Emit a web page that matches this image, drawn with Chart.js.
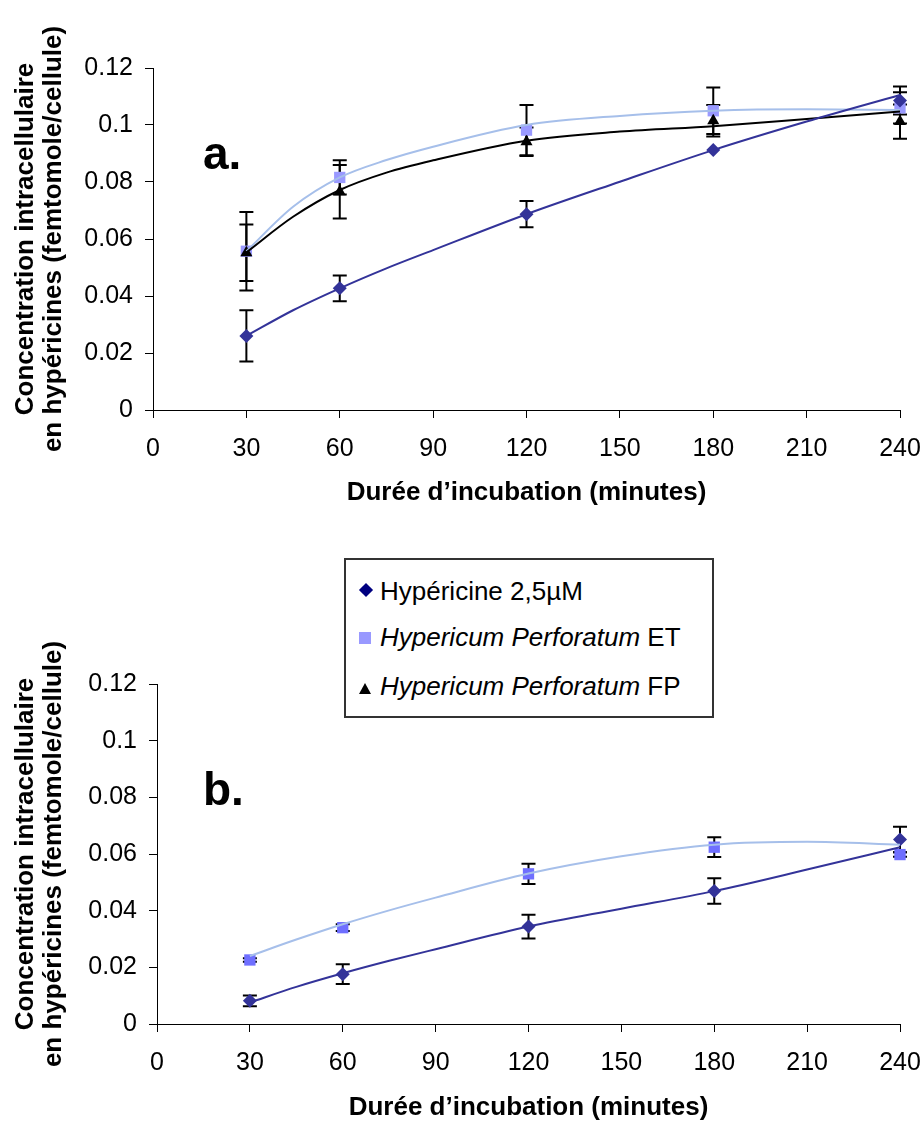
<!DOCTYPE html>
<html>
<head>
<meta charset="utf-8">
<script src="https://cdn.jsdelivr.net/npm/chart.js@4.4.0/dist/chart.umd.min.js"></script>
<style>
  body { margin: 0; background: #fff; }
  #page { position: relative; width: 924px; height: 1124px; font-family: 'Liberation Sans', Arial, sans-serif; color: #000; }
  canvas { position: absolute; left: 0; }
  #chartA { top: 0; }
  #chartB { top: 584px; }
  .panel { position: absolute; left: 203px; font-weight: bold; font-size: 46px; line-height: 46px; z-index: 2; }
  #legend { position: absolute; left: 344px; top: 558px; width: 366px; height: 156px; border: 2px solid #333; background: #fff; font-size: 26px; z-index: 3; }
  .row { position: absolute; left: 34px; line-height: 26px; white-space: nowrap; }
  .mk { position: absolute; }
</style>
</head>
<body>
<div id="page">
  <canvas id="chartA" width="924" height="540"></canvas>
  <canvas id="chartB" width="924" height="540"></canvas>
  <div class="panel" style="top:130px">a.</div>
  <div class="panel" style="top:766px">b.</div>
  <div id="legend">
    <div class="mk" style="left:15px;top:25px;width:10px;height:10px;background:#000080;transform:rotate(45deg)"></div>
    <div class="row" style="top:18px">Hypéricine 2,5µM</div>
    <div class="mk" style="left:13px;top:72px;width:12px;height:12px;background:#9999FF"></div>
    <div class="row" style="top:64px"><i>Hypericum Perforatum</i> ET</div>
    <div class="mk" style="left:13px;top:123px;width:0;height:0;border-left:6px solid transparent;border-right:6px solid transparent;border-bottom:11px solid #000"></div>
    <div class="row" style="top:113px"><i>Hypericum Perforatum</i> FP</div>
  </div>
</div>
<script>
// Axis ticks
const xTickValues = [0, 30, 60, 90, 120, 150, 180, 210, 240];
const yTickValues = [0, 0.02, 0.04, 0.06, 0.08, 0.1, 0.12];

// Measured time points (minutes)
const times = [30, 60, 120, 180, 240];
const trendTimes = [30, 45, 60, 75, 90, 120, 150, 180, 210, 240];

// Panel a
const hypA = [0.026, 0.0427, 0.0687, 0.0912, 0.1086];
const hypAErr = [0.009, 0.0045, 0.0046, 0, 0.0049];
const etA = [0.0557, 0.0816, 0.0982, 0.105, 0.106];
const etAErr = [0.0138, 0.006, 0.0088, 0.0082, 0.0055];
const fpA = [0.0552, 0.0766, 0.0941, 0.1015, 0.1012];
const fpAErr = [0.0099, 0.0094, 0.005, 0.0055, 0.006];
const hypATrend = [0.026, 0.035, 0.0427, 0.0497, 0.0561, 0.0687, 0.0801, 0.0912, 0.1012, 0.1105];
const etATrend = [0.0557, 0.0713, 0.0816, 0.0877, 0.0924, 0.1, 0.1032, 0.105, 0.1055, 0.1053];
const fpATrend = [0.0553, 0.0678, 0.0772, 0.0833, 0.0876, 0.0945, 0.0977, 0.0996, 0.1021, 0.1047];

// Panel b
const hypB = [0.0082, 0.0176, 0.0344, 0.0469, 0.0651];
const hypBErr = [0.0019, 0.0035, 0.0042, 0.0045, 0.0045];
const etB = [0.0226, 0.034, 0.053, 0.0624, 0.0598];
const etBErr = [0.0006, 0.0012, 0.0036, 0.0035, 0.0008];
const hypBTrend = [0.0076, 0.0131, 0.0179, 0.0223, 0.0264, 0.0344, 0.0407, 0.0469, 0.0545, 0.0624];
const etBTrend = [0.024, 0.0298, 0.0352, 0.0401, 0.0446, 0.0531, 0.0592, 0.0633, 0.0643, 0.0633];

Chart.defaults.font.family = "'Liberation Sans', Arial, sans-serif";
Chart.defaults.color = '#000';

function pts(xs, ys) {
    return xs.map((x, i) => ({ x: x, y: ys[i] }));
}

// Draw vertical error bars with caps under the markers
const errorBars = {
    id: 'errorBars',
    beforeDatasetsDraw(chart) {
        const { ctx, scales: { x, y } } = chart;
        ctx.save();
        ctx.strokeStyle = '#000';
        ctx.lineWidth = 2;
        chart.data.datasets.forEach(ds => {
            if (!ds.errors) return;
            ds.data.forEach((p, i) => {
                const e = ds.errors[i];
                if (!e) return;
                const px = x.getPixelForValue(p.x);
                const top = y.getPixelForValue(p.y + e);
                const bot = y.getPixelForValue(p.y - e);
                ctx.beginPath();
                ctx.moveTo(px, top); ctx.lineTo(px, bot);
                ctx.moveTo(px - 7, top); ctx.lineTo(px + 7, top);
                ctx.moveTo(px - 7, bot); ctx.lineTo(px + 7, bot);
                ctx.stroke();
            });
        });
        ctx.restore();
    }
};

function trend(values, color) {
    return {
        type: 'line',
        data: pts(trendTimes, values),
        borderColor: color,
        borderWidth: 2,
        pointRadius: 0,
        cubicInterpolationMode: 'monotone',
        fill: false,
        clip: false
    };
}

function markers(values, errors, style, radius, color) {
    return {
        type: 'scatter',
        data: pts(times, values),
        errors: errors,
        pointStyle: style,
        pointRadius: radius,
        backgroundColor: color,
        borderColor: color,
        borderWidth: 0,
        clip: false
    };
}

function makeChart(id, datasets, axisWidth, padding, titlePad) {
    const ctx = document.getElementById(id).getContext('2d');
    return new Chart(ctx, {
        type: 'scatter',
        data: { datasets: datasets },
        plugins: [errorBars],
        options: {
            responsive: false,
            animation: false,
            layout: { padding: padding },
            plugins: { legend: { display: false }, tooltip: { enabled: false } },
            scales: {
                x: {
                    type: 'linear',
                    min: 0,
                    max: 240,
                    afterBuildTicks: s => { s.ticks = xTickValues.map(v => ({ value: v })); },
                    afterFit: s => { s.height = 100; s.paddingLeft = 0; s.paddingRight = 0; },
                    ticks: { font: { size: 25 }, padding: 16, autoSkip: false, maxRotation: 0 },
                    grid: { drawOnChartArea: false, drawTicks: true, tickLength: 8, color: '#000' },
                    border: { color: '#000', width: 1 },
                    title: {
                        display: true,
                        text: 'Durée d’incubation (minutes)',
                        font: { size: 26, weight: 'bold', lineHeight: 1.08 },
                        padding: { top: 0, bottom: titlePad }
                    }
                },
                y: {
                    min: 0,
                    max: 0.12,
                    afterBuildTicks: s => { s.ticks = yTickValues.map(v => ({ value: v })); },
                    afterFit: s => { s.width = axisWidth; },
                    ticks: {
                        font: { size: 25 },
                        padding: 12,
                        callback: v => String(+v.toFixed(2))
                    },
                    grid: { drawOnChartArea: false, drawTicks: true, tickLength: 8, color: '#000' },
                    border: { color: '#000', width: 1 },
                    title: {
                        display: true,
                        text: ['Concentration intracellulaire', 'en hypéricines (femtomole/cellule)'],
                        font: { size: 26, weight: 'bold', lineHeight: 1.08 },
                        padding: { top: 12, bottom: 0 }
                    }
                }
            }
        }
    });
}

makeChart('chartA', [
    trend(hypATrend, '#333399'),
    trend(fpATrend, '#000000'),
    trend(etATrend, '#A6BFEA'),
    markers(hypA, hypAErr, 'rectRot', 7, '#333399'),
    markers(fpA, fpAErr, 'triangle', 7, '#000000'),
    markers(etA, etAErr, 'rect', 8, '#9999FF')
], 153, { left: 0, top: 68, right: 24, bottom: 30 }, 3);

makeChart('chartB', [
    trend(hypBTrend, '#333399'),
    trend(etBTrend, '#A6BFEA'),
    markers(hypB, hypBErr, 'rectRot', 7, '#333399'),
    markers(etB, etBErr, 'rect', 8, '#6F6FFF')
], 157, { left: 0, top: 100, right: 24, bottom: 0 }, 2);
</script>
</body>
</html>
